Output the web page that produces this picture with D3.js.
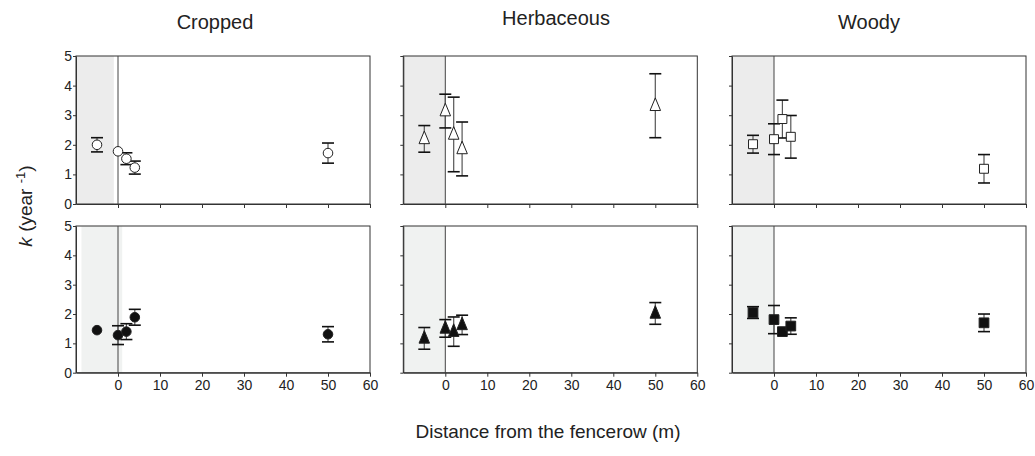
<!DOCTYPE html>
<html>
<head>
<meta charset="utf-8">
<script src="https://cdn.jsdelivr.net/npm/d3@7"></script>
<style>
  body { margin: 0; background: #fff; }
  text { font-family: "Liberation Sans", Arial, sans-serif; fill: #222; }
</style>
</head>
<body>
<svg id="chart" width="1035" height="456"></svg>
<script>
// data
const panelTitles = ["Cropped", "Herbaceous", "Woody"];
const distances = [-5, 0, 2, 4, 50];
const xTicks = [0, 10, 20, 30, 40, 50, 60];
const yTicks = [0, 1, 2, 3, 4, 5];

// top row: open symbols
const croppedOpenK   = [2.00, 1.78, 1.53, 1.23, 1.72];
const croppedOpenErr = [0.24, 0.00, 0.20, 0.22, 0.34];
const herbOpenK      = [2.20, 3.14, 2.35, 1.86, 3.32];
const herbOpenErr    = [0.45, 0.57, 1.26, 0.91, 1.08];
const woodyOpenK     = [2.02, 2.19, 2.87, 2.27, 1.19];
const woodyOpenErr   = [0.30, 0.52, 0.64, 0.72, 0.48];

// bottom row: filled symbols
const croppedFillK   = [1.45, 1.28, 1.40, 1.89, 1.31];
const croppedFillErr = [0.00, 0.32, 0.27, 0.27, 0.26];
const herbFillK      = [1.17, 1.51, 1.40, 1.63, 2.02];
const herbFillErr    = [0.37, 0.30, 0.50, 0.33, 0.37];
const woodyFillK     = [2.05, 1.81, 1.40, 1.59, 1.70];
const woodyFillErr   = [0.20, 0.48, 0.00, 0.28, 0.30];

const svg = d3.select('#chart');

const colX = [[76, 370], [403.3, 697.3], [732, 1026]];
const rowY = [[56, 204], [226, 372.7]];
const titleX = [215, 556, 869];
const shadeTop = [[-10, -1], [-10, 0], [-10, 0]];
const shadeBottom = [[-8.7, 1], [-10, 0], [-10, 0]];

// symbol shapes
const triangle = {
  draw(ctx, size) {
    const w = Math.sqrt(size) * 1.05, h = w * 1.2;
    ctx.moveTo(0, -h * 0.62);
    ctx.lineTo(w / 2, h * 0.38);
    ctx.lineTo(-w / 2, h * 0.38);
    ctx.closePath();
  }
};
const shapes = [d3.symbolCircle, triangle, d3.symbolSquare];
const sizes = [[72, 100, 80], [72, 100, 95]];

const panels = [
  {r: 0, c: 0, k: croppedOpenK, e: croppedOpenErr, fill: '#fff'},
  {r: 0, c: 1, k: herbOpenK, e: herbOpenErr, fill: '#fff'},
  {r: 0, c: 2, k: woodyOpenK, e: woodyOpenErr, fill: '#fff'},
  {r: 1, c: 0, k: croppedFillK, e: croppedFillErr, fill: '#111'},
  {r: 1, c: 1, k: herbFillK, e: herbFillErr, fill: '#111'},
  {r: 1, c: 2, k: woodyFillK, e: woodyFillErr, fill: '#111'}
];

panels.forEach(p => {
  const x = d3.scaleLinear().domain([-10, 60]).range(colX[p.c]);
  const y = d3.scaleLinear().domain([0, 5]).range([rowY[p.r][1], rowY[p.r][0]]);
  const g = svg.append('g');

  const sh = p.r === 0 ? shadeTop[p.c] : shadeBottom[p.c];
  g.append('rect')
    .attr('x', x(sh[0])).attr('y', y(5))
    .attr('width', x(sh[1]) - x(sh[0])).attr('height', y(0) - y(5))
    .attr('fill', p.r === 0 ? '#ececec' : '#f0f2f1');

  // frame
  g.append('rect')
    .attr('x', x(-10)).attr('y', y(5))
    .attr('width', x(60) - x(-10)).attr('height', y(0) - y(5))
    .attr('fill', 'none').attr('stroke', '#333').attr('stroke-width', 1);

  // fencerow line at 0
  g.append('line')
    .attr('x1', x(0)).attr('x2', x(0)).attr('y1', y(5)).attr('y2', y(0))
    .attr('stroke', '#444').attr('stroke-width', 1);

  const ya = g.append('g')
    .attr('transform', 'translate(' + x(-10) + ',0)')
    .call(d3.axisLeft(y).tickValues(yTicks).tickSize(3).tickSizeOuter(0)
      .tickFormat(p.c === 0 ? d3.format('d') : ''));
  const xa = g.append('g')
    .attr('transform', 'translate(0,' + y(0) + ')')
    .call(d3.axisBottom(x).tickValues(xTicks).tickSize(4).tickSizeOuter(0)
      .tickFormat(p.r === 1 ? d3.format('d') : ''));
  [ya, xa].forEach(a => {
    a.selectAll('path, line').attr('stroke', '#333');
    a.selectAll('text').style('font-size', '14px').attr('fill', '#333');
  });
  ya.selectAll('text').attr('x', -4);

  const pts = distances.map((d, i) => ({d: d, k: p.k[i], e: p.e[i]}));

  // error bars
  const eb = g.selectAll('.eb').data(pts.filter(o => o.e > 0)).enter().append('g');
  eb.append('line')
    .attr('x1', o => x(o.d)).attr('x2', o => x(o.d))
    .attr('y1', o => y(o.k + o.e)).attr('y2', o => y(o.k - o.e))
    .attr('stroke', '#555').attr('stroke-width', 1.2);
  [1, -1].forEach(s => {
    eb.append('line')
      .attr('x1', o => x(o.d) - 6).attr('x2', o => x(o.d) + 6)
      .attr('y1', o => y(o.k + s * o.e)).attr('y2', o => y(o.k + s * o.e))
      .attr('stroke', '#111').attr('stroke-width', 1.6);
  });

  // markers
  g.selectAll('.pt').data(pts).enter().append('path')
    .attr('transform', o => 'translate(' + x(o.d) + ',' + y(o.k) + ')')
    .attr('d', d3.symbol().type(shapes[p.c]).size(sizes[p.r][p.c]))
    .attr('fill', p.fill).attr('stroke', '#222').attr('stroke-width', 1);

  if (p.r === 0) {
    svg.append('text')
      .attr('x', titleX[p.c])
      .attr('y', p.c === 1 ? 25 : 29)
      .attr('text-anchor', 'middle')
      .style('font-size', '20px')
      .text(panelTitles[p.c]);
  }
});

// y axis label
const yl = svg.append('text')
  .attr('transform', 'translate(32,206) rotate(-90)')
  .attr('text-anchor', 'middle')
  .style('font-size', '19px');
yl.append('tspan').style('font-style', 'italic').text('k');
yl.append('tspan').text(' (year ');
yl.append('tspan').attr('dy', -7).style('font-size', '13px').text('-1');
yl.append('tspan').attr('dy', 7).text(')');

svg.append('text')
  .attr('x', 548).attr('y', 438)
  .attr('text-anchor', 'middle')
  .style('font-size', '19px')
  .text('Distance from the fencerow (m)');
</script>
</body>
</html>
